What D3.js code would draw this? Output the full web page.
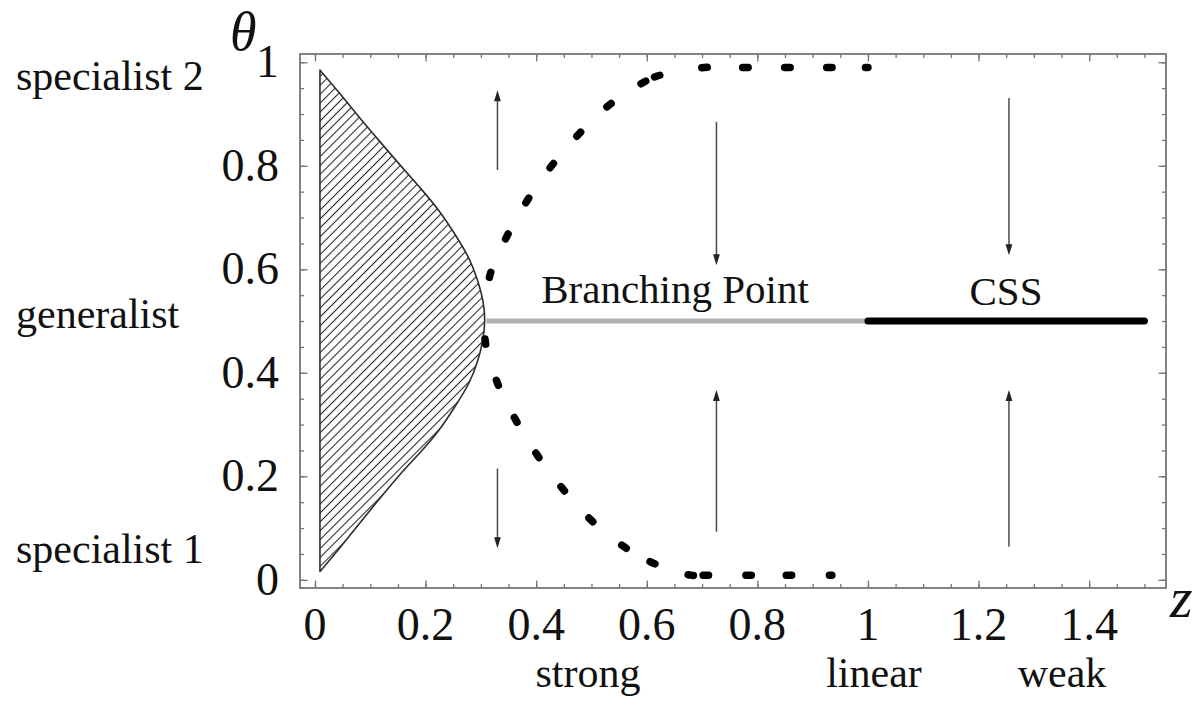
<!DOCTYPE html>
<html>
<head>
<meta charset="utf-8">
<script src="https://cdn.jsdelivr.net/npm/d3@7"></script>
<style>
  html, body { margin: 0; padding: 0; background: #fff; }
  svg { display: block; }
</style>
</head>
<body>
<svg id="chart" width="1202" height="704"></svg>
<script>
// ---- data -----------------------------------------------------------------
// axis ticks
const xTicks = [0, 0.2, 0.4, 0.6, 0.8, 1, 1.2, 1.4];
const xTickLabels = ["0", "0.2", "0.4", "0.6", "0.8", "1", "1.2", "1.4"];
const yTicks = [0, 0.2, 0.4, 0.6, 0.8, 1];
const yTickLabels = ["0", "0.2", "0.4", "0.6", "0.8", "1"];
const minorStep = 0.05;

// hatched region: right-hand boundary as (θ1, z), lower half then upper half
const regionLower = [
  [0.016, 0.009], [0.060, 0.044], [0.110, 0.081], [0.157, 0.117], [0.205, 0.154],
  [0.245, 0.190], [0.288, 0.225], [0.336, 0.254], [0.380, 0.280], [0.423, 0.295],
  [0.462, 0.304], [0.500, 0.308]
];
const regionUpper = [
  [0.538, 0.305], [0.577, 0.295], [0.621, 0.280], [0.665, 0.255], [0.714, 0.225],
  [0.758, 0.190], [0.801, 0.154], [0.846, 0.118], [0.892, 0.081], [0.940, 0.045],
  [0.985, 0.009]
];
const regionLeftZ = 0.009;

// evolving branches (z, θ1); first point is the branching point
const upperBranch = [
  [0.3075, 0.500], [0.3165, 0.589], [0.3467, 0.663], [0.3839, 0.733], [0.4280, 0.800],
  [0.4769, 0.861], [0.5316, 0.917], [0.5937, 0.961], [0.6190, 0.9735], [0.7040, 0.990],
  [0.7780, 0.990], [0.8540, 0.990], [0.9300, 0.990], [1.0000, 0.990]
];
const lowerBranch = [
  [0.3075, 0.500], [0.3080, 0.460], [0.3297, 0.381], [0.3629, 0.309], [0.4020, 0.241],
  [0.4479, 0.176], [0.4986, 0.116], [0.5588, 0.064], [0.6100, 0.033], [0.6794, 0.009],
  [0.7070, 0.009], [0.7836, 0.009], [0.8574, 0.009], [0.9347, 0.009]
];

// singular strategy θ1 = 0.5: branching point for z < 1, CSS for z > 1
const branchingLine = [[0.310, 0.5], [1.0, 0.5]];
const cssLine = [[1.0, 0.5], [1.5, 0.5]];

// direction of selection
const arrows = [
  { z: 0.33,  from: 0.792, to: 0.946 },
  { z: 0.33,  from: 0.215, to: 0.061 },
  { z: 0.726, from: 0.885, to: 0.608 },
  { z: 0.726, from: 0.093, to: 0.367 },
  { z: 1.255, from: 0.931, to: 0.627 },
  { z: 1.255, from: 0.064, to: 0.367 }
];

// ---- layout ---------------------------------------------------------------
const FONT = '"Liberation Serif"';
const svg = d3.select("#chart");
const frame = { left: 300, right: 1166, top: 54, bottom: 588 };

const x = d3.scaleLinear().domain([-0.0271, 1.539]).range([frame.left, frame.right]);
const y = d3.scaleLinear().domain([-0.0158, 1.016]).range([frame.bottom, frame.top]);

const frameColor = "#767676";

function addText(parent, tx, ty, size, anchor, str, italic) {
  return parent.append("text")
      .attr("x", tx).attr("y", ty)
      .attr("text-anchor", anchor)
      .attr("fill", "#111")
      .style("font-family", FONT)
      .style("font-size", size + "px")
      .style("font-style", italic ? "italic" : "normal")
      .text(str);
}

// hatch pattern
const defs = svg.append("defs");
defs.append("pattern")
    .attr("id", "hatch")
    .attr("patternUnits", "userSpaceOnUse")
    .attr("width", 6.3).attr("height", 6.3)
    .attr("patternTransform", "rotate(45)")
  .append("line")
    .attr("x1", 3.15).attr("y1", -1).attr("x2", 3.15).attr("y2", 7.3)
    .attr("stroke", "#222").attr("stroke-width", 1.05);

// ---- frame and ticks --------------------------------------------------------
const minorX = d3.range(0, 1.5 + 1e-9, minorStep).map(v => +v.toFixed(2));
const minorY = d3.range(0, 1 + 1e-9, minorStep).map(v => +v.toFixed(2));

function tickGroup(axisFn, scale, values, size, transform) {
  const g = svg.append("g")
      .attr("transform", transform)
      .call(axisFn(scale).tickValues(values).tickSize(-size).tickFormat(""));
  g.select(".domain").remove();
  g.selectAll(".tick line").attr("stroke", frameColor).attr("stroke-width", 1.3);
  g.selectAll(".tick text").remove();
  return g;
}
tickGroup(d3.axisBottom, x, minorX, 4, `translate(0,${frame.bottom})`);
tickGroup(d3.axisBottom, x, xTicks, 7.5, `translate(0,${frame.bottom})`);
tickGroup(d3.axisTop, x, minorX, 4, `translate(0,${frame.top})`);
tickGroup(d3.axisTop, x, xTicks, 7.5, `translate(0,${frame.top})`);
tickGroup(d3.axisLeft, y, minorY, 4, `translate(${frame.left},0)`);
tickGroup(d3.axisLeft, y, yTicks, 7.5, `translate(${frame.left},0)`);
tickGroup(d3.axisRight, y, minorY, 4, `translate(${frame.right},0)`);
tickGroup(d3.axisRight, y, yTicks, 7.5, `translate(${frame.right},0)`);

svg.append("rect")
    .attr("x", frame.left).attr("y", frame.top)
    .attr("width", frame.right - frame.left).attr("height", frame.bottom - frame.top)
    .attr("fill", "none").attr("stroke", frameColor).attr("stroke-width", 1.8);

// tick labels
const xLab = svg.append("g");
xTicks.forEach((d, i) => addText(xLab, x(d), 640, 46, "middle", xTickLabels[i]));
const yLab = svg.append("g");
yTicks.forEach((d, i) => addText(yLab, 279, y(d) + 15, 46, "end", yTickLabels[i]));

// axis titles
addText(svg, 230, 50, 54, "start", "θ", true);
addText(svg, 1170, 617, 58, "start", "z", true);

// ---- hatched region ---------------------------------------------------------
const regionData = regionLower.concat(regionUpper);
const regionArea = d3.area()
    .curve(d3.curveBasis)
    .y(d => y(d[0]))
    .x0(x(regionLeftZ))
    .x1(d => x(d[1]));

svg.append("path")
    .datum(regionData)
    .attr("d", regionArea)
    .attr("fill", "url(#hatch)")
    .attr("stroke", "#2e2e2e")
    .attr("stroke-width", 1.6)
    .attr("stroke-linejoin", "round");

// ---- singular strategy line -------------------------------------------------
const straight = d3.line().x(d => x(d[0])).y(d => y(d[1]));

svg.append("path")
    .datum(branchingLine)
    .attr("d", straight)
    .attr("fill", "none")
    .attr("stroke", "#b0b0b0")
    .attr("stroke-width", 5);

svg.append("path")
    .datum(cssLine)
    .attr("d", straight)
    .attr("fill", "none")
    .attr("stroke", "#000")
    .attr("stroke-width", 7)
    .attr("stroke-linecap", "round");

// ---- branches: dashed curves with a dash at every sampled point ------------
const branchLine = d3.line()
    .curve(d3.curveCatmullRom.alpha(0.5))
    .x(d => x(d[0])).y(d => y(d[1]));

function drawBranch(points) {
  const path = svg.append("path")
      .datum(points)
      .attr("d", branchLine)
      .attr("fill", "none")
      .attr("stroke", "#000")
      .attr("stroke-width", 7.5)
      .attr("stroke-linecap", "round");

  const node = path.node();
  const L = node.getTotalLength();
  const samples = [];
  for (let s = 0; s < L; s += 0.5) samples.push([s, node.getPointAtLength(s)]);
  samples.push([L, node.getPointAtLength(L)]);

  // arc length at each sampled point (the branching point itself carries no dash)
  const centers = points.slice(1).map(p => {
    const px = x(p[0]), py = y(p[1]);
    let best = Infinity, at = 0;
    for (const [s, q] of samples) {
      const d = (q.x - px) ** 2 + (q.y - py) ** 2;
      if (d < best) { best = d; at = s; }
    }
    return at;
  });

  const dash = 5.5;
  const segs = centers.map(c => [Math.max(0, c - dash / 2), Math.min(L, c + dash / 2)]);
  const pattern = [];
  segs.forEach((sg, i) => {
    pattern.push(Math.max(sg[1] - sg[0], 0.01));
    const gap = i < segs.length - 1
      ? segs[i + 1][0] - sg[1]
      : (L - sg[1]) + segs[0][0] + 20;
    pattern.push(Math.max(gap, 0.5));
  });
  const total = d3.sum(pattern);
  path.attr("stroke-dasharray", pattern.map(v => v.toFixed(2)).join(" "))
      .attr("stroke-dashoffset", (total - segs[0][0]).toFixed(2));
}

drawBranch(upperBranch);
drawBranch(lowerBranch);

// ---- arrows ----------------------------------------------------------------
const arrowColor = "#4a4a4a";
const headLen = 11, headHalf = 3.4;
const ag = svg.append("g");
arrows.forEach(a => {
  const ax = x(a.z), y0 = y(a.from), y1 = y(a.to);
  const dir = y1 < y0 ? -1 : 1;
  ag.append("line")
      .attr("x1", ax).attr("y1", y0)
      .attr("x2", ax).attr("y2", y1 - dir * (headLen - 2))
      .attr("stroke", arrowColor).attr("stroke-width", 1.5);
  const p = d3.path();
  p.moveTo(ax, y1);
  p.lineTo(ax - headHalf, y1 - dir * headLen);
  p.lineTo(ax + headHalf, y1 - dir * headLen);
  p.closePath();
  ag.append("path").attr("d", p.toString()).attr("fill", "#222");
});

// ---- annotations -----------------------------------------------------------
const ann = svg.append("g");
addText(ann, 16, 90, 42, "start", "specialist 2");
addText(ann, 16, 328, 42, "start", "generalist");
addText(ann, 16, 563, 42, "start", "specialist 1");
addText(ann, 675, 303, 41, "middle", "Branching Point");
addText(ann, 1006, 305, 41, "middle", "CSS");
addText(ann, 588, 687, 42, "middle", "strong");
addText(ann, 874, 687, 42, "middle", "linear");
addText(ann, 1062, 687, 42, "middle", "weak");
</script>
</body>
</html>
